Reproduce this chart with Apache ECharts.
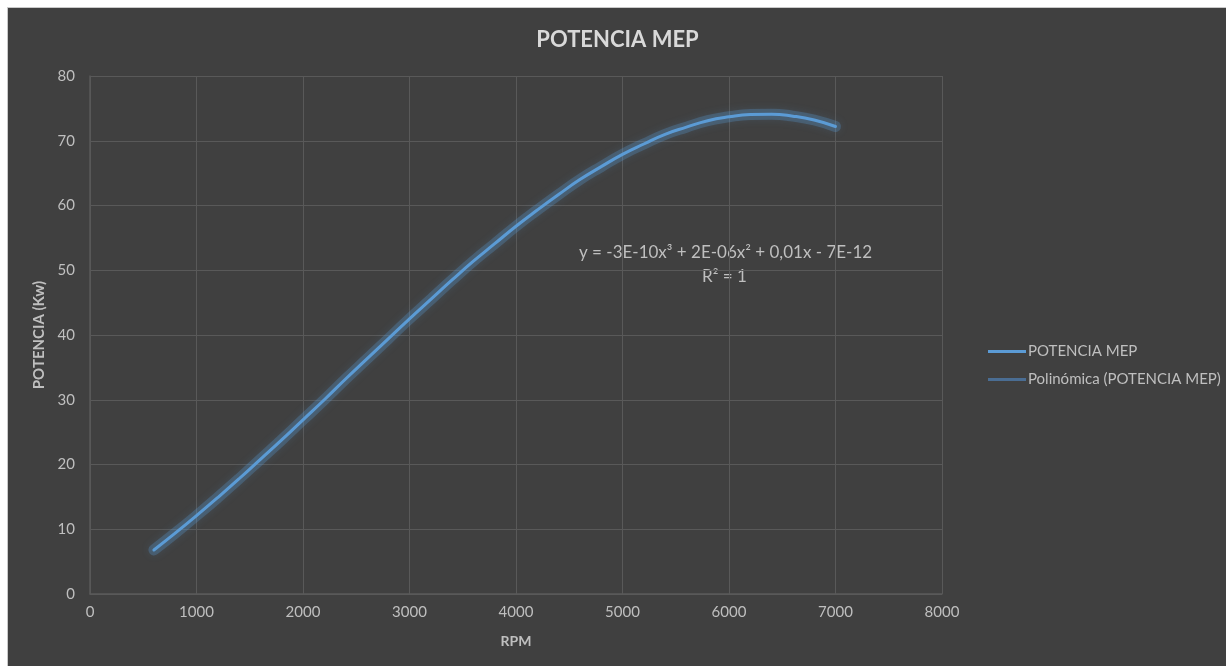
<!DOCTYPE html>
<html>
<head>
<meta charset="utf-8">
<script src="https://cdn.jsdelivr.net/npm/echarts@6/dist/echarts.min.js"></script>
<style>
  html, body { margin: 0; padding: 0; background: #ffffff; }
  #frame { position: absolute; left: 7px; top: 7px; width: 1219px; height: 659px;
           border-left: 1px solid #c9c9c9; border-top: 1px solid #c9c9c9; background: #404040; }
  #chart { width: 1219px; height: 659px; }
</style>
</head>
<body>
<div id="frame"><div id="chart"></div></div>
<script>
// Engine speed (rpm) and measured power (kW)
const rpm = [600, 800, 1000, 1200, 1400, 1600, 1800, 2000, 2200, 2400, 2600, 2800,
             3000, 3200, 3400, 3600, 3800, 4000, 4200, 4400, 4600, 4800, 5000, 5200,
             5400, 5600, 5800, 6000, 6200, 6400, 6600, 6800, 7000];
const potencia = [6.8, 9.4, 12.1, 14.9, 17.8, 20.8, 23.8, 26.9, 30.0, 33.2, 36.3, 39.4,
                  42.5, 45.5, 48.5, 51.4, 54.1, 56.8, 59.3, 61.7, 64.0, 66.0, 67.9, 69.5,
                  71.0, 72.1, 73.1, 73.7, 74.05, 74.1, 73.8, 73.2, 72.2];
// Third-order trend line through the same readings
const trend = [6.8, 9.4, 12.1, 14.9, 17.8, 20.8, 23.8, 26.9, 30.0, 33.2, 36.3, 39.4,
               42.5, 45.5, 48.5, 51.4, 54.1, 56.8, 59.3, 61.7, 64.0, 66.0, 67.9, 69.5,
               71.0, 72.1, 73.1, 73.7, 74.05, 74.1, 73.8, 73.2, 72.2];
const xTicks = [0, 1000, 2000, 3000, 4000, 5000, 6000, 7000, 8000];
const yTicks = [0, 10, 20, 30, 40, 50, 60, 70, 80];

const FONT = 'Lato, "Open Sans", sans-serif';
const TXT = '#bfbfbf';
const GRID = '#595959';
const BLUE = '#5b9bd5';

const pts = rpm.map((r, i) => [r, potencia[i]]);

const chart = echarts.init(document.getElementById('chart'), null, { renderer: 'canvas' });
chart.setOption({
  backgroundColor: '#404040',
  animation: false,
  textStyle: { fontFamily: FONT },
  title: {
    text: 'POTENCIA MEP', left: 'center', top: 16,
    textStyle: { color: '#d9d9d9', fontSize: 22, fontWeight: 'bold', fontFamily: FONT }
  },
  grid: { left: 82, right: 285, top: 68, bottom: 73 },
  legend: {
    orient: 'vertical', left: 975, top: 331, itemGap: 13,
    itemWidth: 38, itemHeight: 3,
    textStyle: { color: TXT, fontSize: 15, fontFamily: FONT, padding: [0, 0, 0, -3] },
    data: [
      { name: 'POTENCIA MEP', icon: 'rect', itemStyle: { color: BLUE } },
      { name: 'Polinómica (POTENCIA MEP)', icon: 'rect', itemStyle: { color: '#4a6d93' } }
    ]
  },
  xAxis: {
    type: 'value', min: xTicks[0], max: xTicks[xTicks.length - 1], interval: 1000,
    name: 'RPM', nameLocation: 'middle', nameGap: 40,
    nameTextStyle: { color: TXT, fontSize: 14, fontWeight: 'bold', fontFamily: FONT },
    axisLine: { show: true, lineStyle: { color: GRID, width: 1.5 } },
    axisTick: { show: false },
    axisLabel: { color: TXT, fontSize: 15, margin: 11, fontFamily: FONT,
                 formatter: v => String(v) },
    splitLine: { show: true, lineStyle: { color: GRID, width: 1 } }
  },
  yAxis: {
    type: 'value', min: yTicks[0], max: yTicks[yTicks.length - 1], interval: 10,
    name: 'POTENCIA (Kw)', nameLocation: 'middle', nameGap: 43, nameRotate: 90,
    nameTextStyle: { color: TXT, fontSize: 15, fontWeight: 'bold', fontFamily: FONT },
    axisLine: { show: true, lineStyle: { color: GRID, width: 1.5 } },
    axisTick: { show: false },
    axisLabel: { color: TXT, fontSize: 15, margin: 15, fontFamily: FONT },
    splitLine: { show: true, lineStyle: { color: GRID, width: 1 } }
  },
  series: [
    {
      // soft halo under the main curve
      name: 'POTENCIA MEP', type: 'line', smooth: 0.5, showSymbol: false, silent: true,
      data: pts,
      lineStyle: { color: 'rgba(91,155,213,0.28)', width: 11, cap: 'round', join: 'round',
                   shadowColor: 'rgba(91,155,213,0.5)', shadowBlur: 8 },
      z: 1
    },
    {
      name: 'Polinómica (POTENCIA MEP)', type: 'line', smooth: 0.5, showSymbol: false,
      data: rpm.map((r, i) => [r, trend[i]]),
      lineStyle: { color: '#4a6d93', width: 2 }, z: 2
    },
    {
      name: 'POTENCIA MEP', type: 'line', smooth: 0.5, showSymbol: false,
      data: pts,
      lineStyle: { color: BLUE, width: 3, cap: 'round', join: 'round' },
      z: 3
    }
  ],
  graphic: [
    {
      type: 'text', left: 571, top: 236,
      style: { text: 'y = -3E-10x³ + 2E-06x² + 0,01x - 7E-12', fill: TXT, fontSize: 17, fontFamily: FONT }
    },
    {
      type: 'text', left: 694, top: 260,
      style: { text: 'R² = 1', fill: TXT, fontSize: 17, fontFamily: FONT }
    }
  ]
});
</script>
</body>
</html>
